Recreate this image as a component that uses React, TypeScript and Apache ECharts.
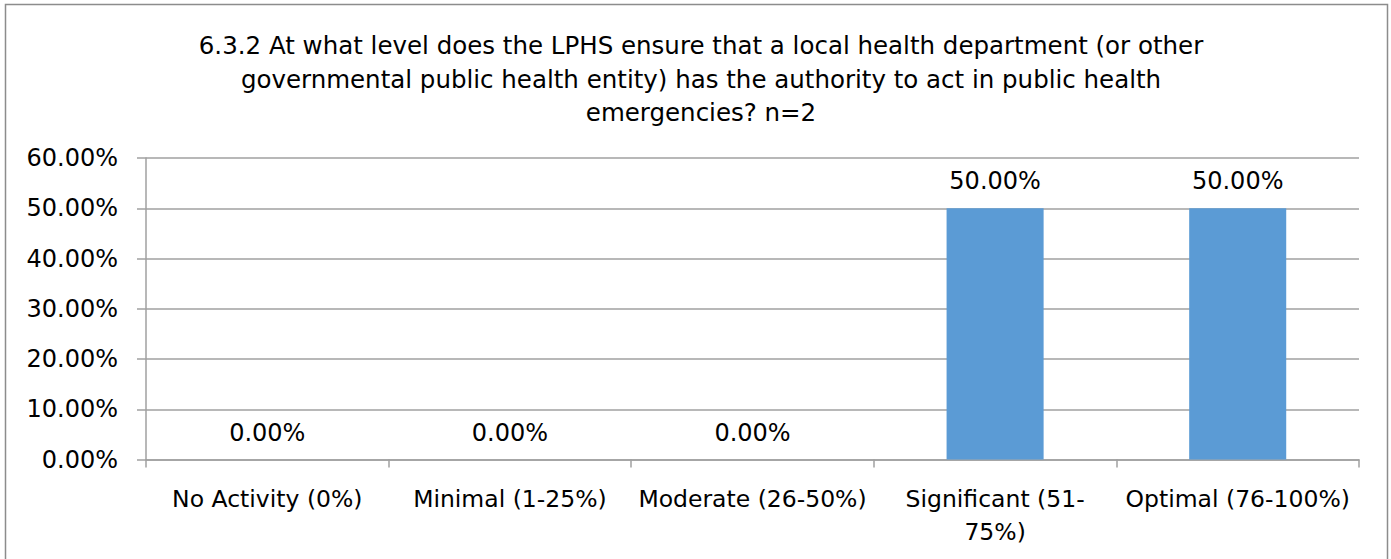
import React, { useEffect, useRef } from "react";
import * as echarts from "echarts";

const titleLines = [
  "6.3.2 At what level does the LPHS ensure that a local health department (or other",
  "governmental public health entity) has the authority to act in public health",
  "emergencies? n=2",
];
const categories = [
  "No Activity (0%)",
  "Minimal (1-25%)",
  "Moderate (26-50%)",
  "Significant (51-75%)",
  "Optimal (76-100%)",
];
const categoryLabels = [
  "No Activity (0%)",
  "Minimal (1-25%)",
  "Moderate (26-50%)",
  "Significant (51-\n75%)",
  "Optimal (76-100%)",
];
const values = [0, 0, 0, 50, 50];
const yTicks = [0, 10, 20, 30, 40, 50, 60];

const FONT = "DejaVu Sans";

export default function App() {
  const ref = useRef<HTMLDivElement>(null);
  useEffect(() => {
    if (!ref.current) return;
    const chart = echarts.init(ref.current, null, { renderer: "svg" });
    chart.setOption({
      animation: false,
      backgroundColor: "#ffffff",
      title: {
        text: titleLines.join("\n"),
        left: 696,
        top: 24,
        textAlign: "center",
        textStyle: {
          fontFamily: FONT,
          fontSize: 24.5,
          fontWeight: "normal",
          color: "#000",
          lineHeight: 33.5,
        },
      },
      graphic: [
        {
          type: "rect",
          shape: { x: 5.5, y: 4.5, width: 1382, height: 570 },
          style: { fill: "none", stroke: "#8c8c8c", lineWidth: 1.5 },
          silent: true,
        },
      ],
      grid: { left: 146, right: 32, top: 158, bottom: 99.5, containLabel: false },
      xAxis: {
        type: "category",
        data: categories,
        axisLine: { show: true, lineStyle: { color: "#a0a0a0", width: 1.5 } },
        axisTick: { show: true, length: 8, lineStyle: { color: "#a0a0a0", width: 1.5 } },
        axisLabel: {
          fontFamily: FONT,
          fontSize: 23.5,
          color: "#000",
          margin: 23,
          lineHeight: 33,
          interval: 0,
          formatter: (v: string) => categoryLabels[categories.indexOf(v)],
        },
      },
      yAxis: {
        type: "value",
        min: 0,
        max: 60,
        interval: 10,
        axisLine: { show: true, lineStyle: { color: "#a0a0a0", width: 1.5 } },
        axisTick: { show: true, length: 9, lineStyle: { color: "#a0a0a0", width: 1.5 } },
        splitLine: { show: true, lineStyle: { color: "#a0a0a0", width: 1.5 } },
        axisLabel: {
          fontFamily: FONT,
          fontSize: 24,
          color: "#000",
          margin: 28,
          formatter: (v: number) => (yTicks.includes(v) ? v.toFixed(2) + "%" : ""),
        },
      },
      series: [
        {
          type: "bar",
          data: values,
          barWidth: "40%",
          itemStyle: { color: "#5b9bd5" },
          label: {
            show: true,
            position: "top",
            distance: 15,
            fontFamily: FONT,
            fontSize: 24,
            color: "#000",
            formatter: (p: any) => Number(p.value).toFixed(2) + "%",
          },
        },
      ],
    });
    return () => chart.dispose();
  }, []);
  return (
    <div
      ref={ref}
      style={{ position: "absolute", left: 0, top: 0, width: 1391, height: 559 }}
    />
  );
}
